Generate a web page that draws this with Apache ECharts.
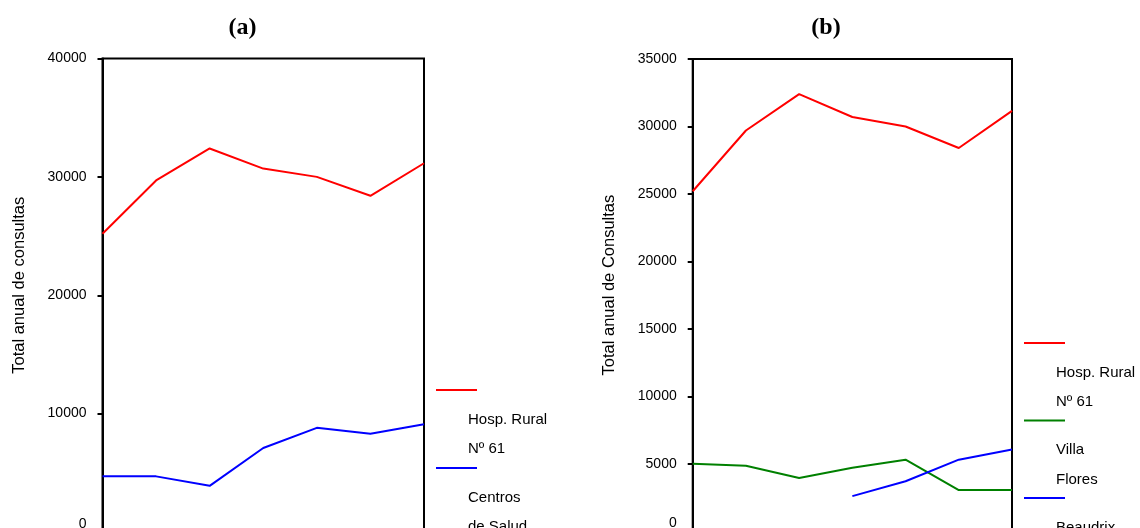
<!DOCTYPE html>
<html>
<head>
<meta charset="utf-8">
<script src="https://cdn.jsdelivr.net/npm/echarts@6/dist/echarts.min.js"></script>
<style>
html,body{margin:0;padding:0;background:#fff;}
#chart{width:1140px;height:528px;}
</style>
</head>
<body>
<div id="chart"></div>
<script>
// ---- data ----
const categories = ['1', '2', '3', '4', '5', '6', '7'];
const hospRural = [25200, 29700, 32400, 30700, 30000, 28400, 31150];
const centrosSalud = [4700, 4700, 3900, 7100, 8800, 8300, 9100];
const villaFlores = [5000, 4850, 3950, 4700, 5300, 3050, 3050];
const beaudrix = [null, null, null, 2600, 3700, 5300, 6050];
const yTicksA = [0, 10000, 20000, 30000, 40000];
const yTicksB = [0, 5000, 10000, 15000, 20000, 25000, 30000, 35000];
const titles = ['(a)', '(b)'];
const yNames = ['Total anual de consultas', 'Total anual de Consultas'];
const legendA = [['Hosp. Rural', 'Nº 61'], ['Centros', 'de Salud']];
const legendB = [['Hosp. Rural', 'Nº 61'], ['Villa', 'Flores'], ['Beaudrix']];

const RED = '#ff0000', BLUE = '#0000ff', GREEN = '#008000';
const FONT = 'Liberation Sans, Arial, sans-serif';

const chart = echarts.init(document.getElementById('chart'), null, {renderer: 'canvas'});

function yAxis(gridIndex, ticks, name) {
  return {
    type: 'value', gridIndex: gridIndex,
    min: ticks[0], max: ticks[ticks.length - 1], interval: ticks[1] - ticks[0],
    name: name, nameLocation: 'middle', nameGap: 75,
    nameTextStyle: {fontFamily: FONT, fontSize: 16.5, color: '#000', padding: [0, 0, 0, 20]},
    axisLine: {show: true, lineStyle: {color: '#000', width: 2}},
    axisTick: {show: true, length: 5, lineStyle: {color: '#000', width: 2}},
    axisLabel: {fontFamily: FONT, fontSize: 14, color: '#000', margin: 16,
      formatter: function (v) { return v === 0 ? '{z|0}' : String(v); },
      rich: {z: {fontFamily: FONT, fontSize: 14, color: '#000', padding: [0, 0, 16, 0]}}},
    splitLine: {show: false}
  };
}
function xAxis(gridIndex) {
  return {
    type: 'category', gridIndex: gridIndex, data: categories, boundaryGap: false,
    axisLine: {show: true, lineStyle: {color: '#000', width: 2}},
    axisTick: {show: false}, axisLabel: {show: false}, splitLine: {show: false}
  };
}
function line(name, data, color, xi, yi) {
  return {
    type: 'line', name: name, data: data, xAxisIndex: xi, yAxisIndex: yi,
    showSymbol: false, symbol: 'none', connectNulls: false, silent: true,
    lineStyle: {color: color, width: 2}, itemStyle: {color: color}, animation: false
  };
}

// legend drawn as graphic lines + text (icon above, label lines below)
function legendGraphics(items, colors, x0, y0, step) {
  const els = [];
  items.forEach((lines, i) => {
    const y = y0 + i * step;
    els.push({type: 'line', shape: {x1: x0, y1: y, x2: x0 + 41, y2: y},
      style: {stroke: colors[i], lineWidth: 2}, silent: true});
    lines.forEach((t, j) => {
      els.push({type: 'text', x: x0 + 32, y: y + 29.5 + j * 29.5,
        style: {text: t, font: '15px ' + FONT, fill: '#000', textVerticalAlign: 'middle', verticalAlign: 'middle'},
        silent: true});
    });
  });
  return els;
}

const titleStyle = {fontFamily: 'Liberation Serif, Times New Roman, serif', fontWeight: 'bold', fontSize: 24, color: '#000'};

const option = {
  backgroundColor: '#fff',
  animation: false,
  title: [
    {text: titles[0], left: 237.5, top: 11, textAlign: 'center', textStyle: titleStyle},
    {text: titles[1], left: 821, top: 11, textAlign: 'center', textStyle: titleStyle}
  ],
  grid: [
    {left: 102.5, top: 58.5, width: 321.5, height: 473.5, show: true, borderColor: '#000', borderWidth: 2,
      backgroundColor: 'transparent', containLabel: false, outerBoundsMode: 'none'},
    {left: 692.7, top: 59, width: 319.3, height: 472.2, show: true, borderColor: '#000', borderWidth: 2,
      backgroundColor: 'transparent', containLabel: false, outerBoundsMode: 'none'}
  ],
  xAxis: [xAxis(0), xAxis(1)],
  yAxis: [yAxis(0, yTicksA, yNames[0]), yAxis(1, yTicksB, yNames[1])],
  series: [
    line(legendA[0].join(' '), hospRural, RED, 0, 0),
    line(legendA[1].join(' '), centrosSalud, BLUE, 0, 0),
    line(legendB[0].join(' ') + ' (b)', hospRural, RED, 1, 1),
    line(legendB[1].join(' '), villaFlores, GREEN, 1, 1),
    line(legendB[2].join(' '), beaudrix, BLUE, 1, 1)
  ],
  graphic: legendGraphics(legendA, [RED, BLUE], 436, 390, 78)
    .concat(legendGraphics(legendB, [RED, GREEN, BLUE], 1024, 343, 77.5))
};
chart.setOption(option);
</script>
</body>
</html>
